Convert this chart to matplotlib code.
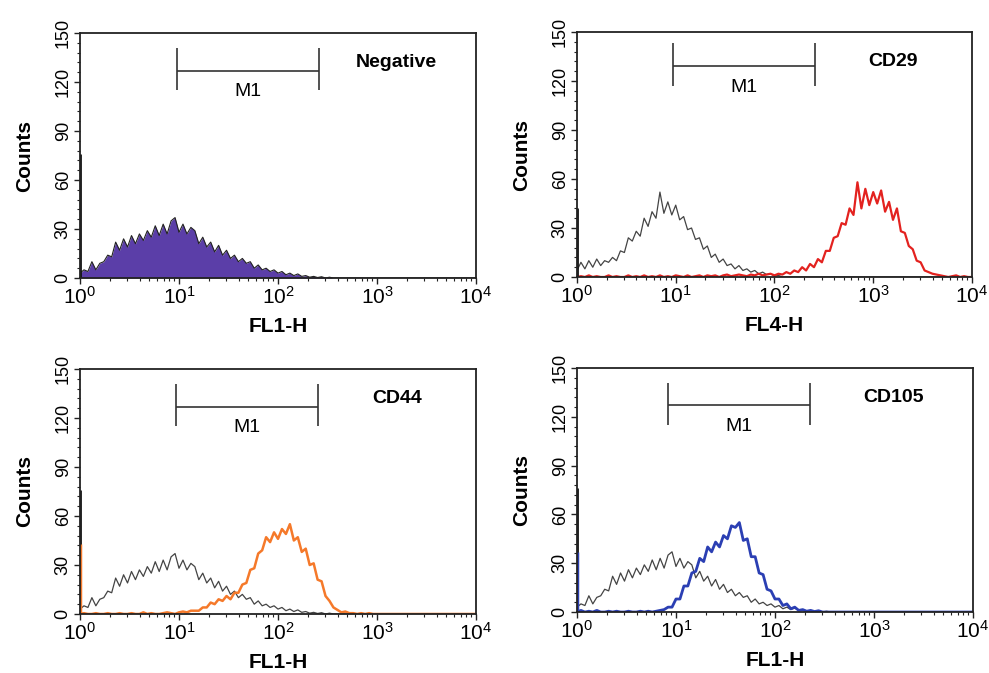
import numpy as np
import matplotlib
matplotlib.use('Agg')
import matplotlib.pyplot as plt
from matplotlib.ticker import LogLocator, LogFormatterMathtext, MultipleLocator, NullFormatter

plt.rcParams['font.family'] = ['Liberation Sans', 'DejaVu Sans']
plt.rcParams['mathtext.default'] = 'regular'

# channel positions: log10 intensity, 0..4 in steps of 0.04
channels = 10 ** np.arange(0, 4.0001, 0.04)
n_ch = len(channels)

# unstained control (isotype) histogram
control = [3, 5, 4, 10, 5, 9, 10, 14, 13, 22,
           17, 24, 19, 26, 21, 27, 23, 29, 25, 32,
           26, 33, 27, 35, 37, 28, 33, 27, 31, 29,
           21, 25, 19, 22, 16, 20, 14, 17, 12, 14,
           10, 12, 9, 10, 6, 8, 5, 6, 4, 5,
           3, 4, 2, 3, 1.5, 2.5, 1, 1.5, 0.5, 1,
           0.3, 0.8, 0, 0.5, 0]

# control used on the FL4 channel (CD29 panel)
control_fl4 = [4, 9, 5, 10, 6, 11, 7, 10, 9, 12,
               10, 16, 15, 24, 22, 28, 25, 36, 31, 40,
               36, 52, 39, 46, 38, 44, 35, 37, 29, 30,
               23, 24, 17, 19, 12, 14, 9, 11, 7, 8,
               5, 7, 4, 5, 3, 4, 2, 3, 1.5, 2,
               0.5, 1, 0]

cd29 = [0, 0.5, 0, 1, 0, 0.5, 0, 0, 1, 0,
        0.5, 0, 0, 1, 0, 0.5, 0, 1, 0, 0.5,
        0, 1, 0, 0.5, 0, 1, 0.5, 0, 1, 0,
        0.5, 1, 0, 1, 0.5, 1, 0, 1, 1.5, 0.5,
        1, 1.5, 1, 0.5, 1.5, 1, 2, 1, 1.5, 2,
        1, 2, 1.5, 3, 2, 4, 3, 6, 4, 8,
        6, 11, 9, 16, 16, 24, 25, 33, 32, 42,
        38, 58, 42, 54, 44, 52, 45, 53, 40, 46,
        35, 42, 28, 27, 19, 17, 10, 9, 4, 3,
        2, 1.5, 1, 0.5, 0, 0.5, 1, 0, 0.5, 0,
        0]

cd44 = [0, 0.5, 0, 0, 0.5, 0, 0, 0.5, 0, 0,
        0.5, 0, 0, 0.5, 0, 0, 1, 0, 0.5, 0,
        0, 0.5, 1, 0.5, 0, 1, 1.5, 1, 2, 2,
        2, 4, 4, 7, 6, 9, 8, 11, 9, 13,
        13, 18, 19, 27, 28, 37, 39, 47, 44, 50,
        46, 52, 49, 55, 45, 47, 38, 40, 30, 31,
        21, 20, 11, 8, 4, 2.5, 1, 1.5, 0.5, 0.5,
        0, 0.5, 0, 0.5]

cd105 = [0, 1, 0, 0.5, 0, 1, 0, 0, 0.5, 0,
         0.5, 0, 0, 0.5, 0, 0, 0.5, 0, 0.5, 0,
         0.5, 1, 1.5, 3, 3, 8, 8, 16, 16, 24,
         25, 33, 31, 40, 37, 43, 40, 47, 45, 53,
         52, 55, 44, 45, 34, 34, 24, 23, 14, 13,
         8, 8, 4, 5, 2, 3, 1, 1.5, 0.5, 1,
         0.3, 0.8, 0]

# first-channel pile-up (counts at 10^0)
spike_control = 76
spike_control_fl4 = 42
spike_cd44 = 43
spike_cd105 = 37

panel_names = ['Negative', 'CD29', 'CD44', 'CD105']
x_labels = ['FL1-H', 'FL4-H', 'FL1-H', 'FL1-H']
gate_lo = [9.5, 9.4, 9.3, 8.3]
gate_hi = [260, 257, 252, 225]
gate_y = [127, 129, 127, 127]


def pad(vals):
    v = np.zeros(n_ch)
    v[:len(vals)] = vals
    return v


fig = plt.figure(figsize=(9.89, 6.73), dpi=100)
rects = [[0.0809, 0.5869, 0.4004, 0.364],
         [0.5834, 0.5884, 0.3994, 0.364],
         [0.0809, 0.0877, 0.4004, 0.364],
         [0.5834, 0.0906, 0.4004, 0.3626]]
axes = [fig.add_axes(r) for r in rects]

ctrl = pad(control)

# Negative: filled histogram
ax = axes[0]
ax.fill_between(channels, ctrl, color='#5b3ea8', lw=0)
ax.plot(channels, ctrl, color='#222222', lw=0.8)
ax.vlines(channels[0], 0, spike_control, color='#111111', lw=2)

# CD29
ax = axes[1]
ax.plot(channels, pad(control_fl4), color='#444444', lw=0.9)
ax.plot(channels, pad(cd29), color='#e3221f', lw=1.6)
ax.vlines(channels[0], 0, spike_control_fl4, color='#111111', lw=2)

# CD44
ax = axes[2]
ax.plot(channels, ctrl, color='#444444', lw=0.9)
ax.plot(channels, pad(cd44), color='#f5792a', lw=1.8)
ax.vlines(channels[0], 0, spike_control, color='#111111', lw=2)
ax.vlines(channels[0], 0, spike_cd44, color='#f5792a', lw=2.5)

# CD105
ax = axes[3]
ax.plot(channels, ctrl, color='#444444', lw=0.9)
ax.plot(channels, pad(cd105), color='#2b3fb3', lw=2.0)
ax.vlines(channels[0], 0, spike_control, color='#111111', lw=2)
ax.vlines(channels[0], 0, spike_cd105, color='#2b3fb3', lw=2.5)

for i, ax in enumerate(axes):
    ax.set_xscale('log')
    ax.set_xlim(1, 1e4)
    ax.set_ylim(0, 150)
    ax.xaxis.set_major_locator(LogLocator(base=10, numticks=10))
    ax.xaxis.set_major_formatter(LogFormatterMathtext())
    ax.xaxis.set_minor_locator(LogLocator(base=10, subs=np.arange(2, 10), numticks=20))
    ax.xaxis.set_minor_formatter(NullFormatter())
    ax.yaxis.set_major_locator(MultipleLocator(30))
    ax.yaxis.set_minor_locator(MultipleLocator(6))
    ax.tick_params(axis='both', which='both', direction='out', color='#222222')
    ax.tick_params(axis='both', which='major', length=4, width=1)
    ax.tick_params(axis='both', which='minor', length=2.5, width=0.8)
    ax.tick_params(axis='x', labelsize=15, pad=2)
    ax.tick_params(axis='y', labelsize=13, pad=2)
    for lab in ax.get_yticklabels():
        lab.set_rotation(90)
        lab.set_va('center')
    for s in ax.spines.values():
        s.set_linewidth(1.3)
        s.set_color('#222222')
    ax.set_xlabel(x_labels[i], fontsize=15, fontweight='bold', labelpad=6)
    ax.set_ylabel('Counts', fontsize=15, fontweight='bold', labelpad=15)

    # M1 gate marker
    ax.hlines(gate_y[i], gate_lo[i], gate_hi[i], color='#333333', lw=1.2)
    ax.vlines([gate_lo[i], gate_hi[i]], gate_y[i] - 12, gate_y[i] + 14, color='#333333', lw=1.2)
    ax.text(np.sqrt(gate_lo[i] * gate_hi[i]), gate_y[i] - 13, 'M1', fontsize=14,
            ha='center', va='center')
    ax.text(0.8, 0.88, panel_names[i], transform=ax.transAxes, fontsize=14,
            fontweight='bold', ha='center', va='center')

fig.savefig('out.png', dpi=100)
